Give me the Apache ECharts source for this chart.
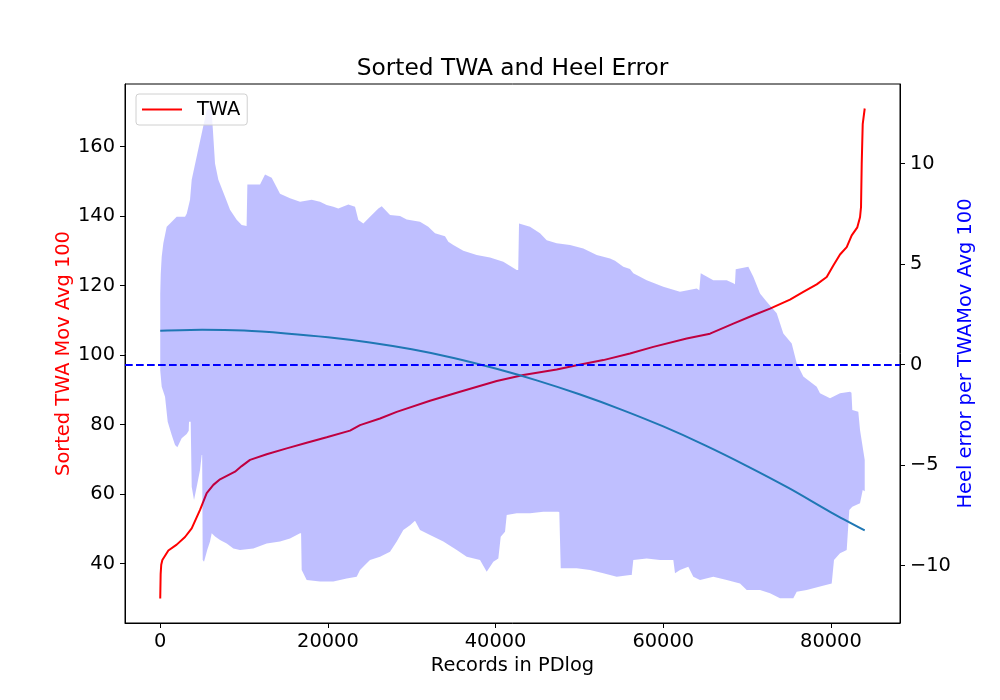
<!DOCTYPE html>
<html><head><meta charset="utf-8">
<script src="https://cdn.jsdelivr.net/npm/echarts@6/dist/echarts.min.js"></script>
<style>html,body{margin:0;padding:0;background:#fff}#c{width:1000px;height:700px}</style>
</head><body><div id="c"></div>
<script>
// ---------- data ----------
const titleText = 'Sorted TWA and Heel Error';
const xAxisName = 'Records in PDlog';
const leftAxisName = 'Sorted TWA Mov Avg 100';
const rightAxisName = 'Heel error per TWAMov Avg 100';
const legendName = 'TWA';

const xTicks = [0, 20000, 40000, 60000, 80000];
const leftTicks = [40, 60, 80, 100, 120, 140, 160];
const rightTicks = [-10, -5, 0, 5, 10];

// Sorted TWA (left axis)
const twaX = [0, 50, 120, 254, 970, 1964, 2958, 3754, 4747, 5543, 6337, 7133, 8922, 9717, 10711, 12699, 15085, 17470, 19855, 22638, 23831, 26217, 28209, 32180, 35758, 40136, 43308, 47292, 49678, 52850, 56035, 58814, 62798, 65577, 68357, 70744, 72734, 75119, 76706, 78304, 79497, 80284, 81083, 81882, 82478, 83147, 83469, 83588, 83671, 83791, 84030];
const twaY = [30.0, 37.0, 39.7, 41.1, 43.8, 45.5, 47.7, 50.2, 55.5, 60.3, 62.7, 64.3, 66.5, 68.1, 69.9, 71.5, 73.2, 74.8, 76.4, 78.3, 79.9, 81.8, 83.7, 86.9, 89.5, 92.6, 94.3, 95.9, 97.1, 98.6, 100.5, 102.4, 104.8, 106.2, 109.1, 111.5, 113.4, 116.0, 118.2, 120.4, 122.5, 125.8, 129.0, 131.1, 134.5, 136.8, 139.7, 142.6, 155.0, 166.5, 171.0];

// Heel error band (right axis): upper envelope
const upperX = [0, 60, 175, 370, 772, 1169, 1964, 2958, 3157, 3554, 3754, 4429, 4946, 5543, 5860, 6139, 6536, 6934, 7729, 8325, 9120, 9717, 10300, 10393, 11904, 12500, 13296, 14289, 15482, 16675, 18067, 19060, 19855, 20650, 21246, 22439, 23234, 23632, 24229, 25024, 26018, 26420, 27410, 28603, 29402, 30983, 31973, 32777, 33969, 34363, 34959, 36152, 37750, 39337, 40923, 42522, 42700, 42796, 44108, 45300, 46100, 47292, 48879, 50465, 52063, 53650, 54246, 55236, 56035, 56428, 58026, 60007, 61994, 63991, 64300, 64468, 65970, 67569, 68357, 68550, 68643, 70147, 70744, 71543, 72342, 73535, 74323, 75322, 75919, 76706, 78304, 78697, 79890, 81083, 82276, 82450, 82550, 83266, 83469, 84030];
const upperY = [3.5, 4.5, 5.36, 6.04, 6.86, 7.02, 7.35, 7.35, 7.5, 8.2, 9.2, 10.5, 11.5, 12.66, 12.75, 12.6, 10.0, 9.2, 8.35, 7.7, 7.2, 6.95, 6.9, 8.96, 8.96, 9.46, 9.3, 8.5, 8.27, 8.1, 8.2, 8.1, 7.94, 7.85, 7.77, 7.97, 7.85, 7.19, 7.02, 7.35, 7.77, 7.88, 7.44, 7.39, 7.22, 7.1, 6.86, 6.53, 6.39, 6.11, 5.95, 5.66, 5.45, 5.33, 5.12, 4.7, 4.7, 7.02, 6.86, 6.53, 6.19, 6.03, 5.95, 5.78, 5.45, 5.28, 5.16, 4.87, 4.75, 4.54, 4.2, 3.87, 3.62, 3.79, 3.7, 4.54, 4.2, 4.2, 4.04, 4.0, 4.74, 4.87, 4.37, 3.54, 3.12, 2.55, 1.55, 1.05, 0.06, -0.6, -1.1, -1.43, -1.68, -1.43, -1.35, -1.4, -2.26, -2.35, -3.26, -4.75];

// Heel error band (right axis): lower envelope
const lowerX = [0, 175, 573, 891, 1368, 1765, 2043, 2560, 3157, 3400, 3435, 3634, 3754, 4031, 4429, 4747, 4946, 5000, 5065, 5224, 5622, 5940, 6139, 6536, 7133, 7928, 8723, 9518, 11108, 12699, 14289, 15482, 16675, 16800, 16874, 17470, 19060, 20650, 22240, 23433, 23831, 24627, 25024, 26217, 27410, 28209, 28996, 29795, 30391, 30988, 32180, 33767, 35365, 36557, 38144, 38943, 39730, 40327, 40613, 41126, 41329, 42522, 44108, 45694, 47483, 47600, 47770, 49678, 51264, 52850, 54449, 56035, 56238, 56428, 58026, 59613, 61199, 61403, 61999, 62989, 63585, 64385, 65970, 67569, 69155, 69954, 71541, 72734, 73926, 75513, 75918, 77111, 78697, 80093, 80367, 81083, 81882, 82192, 82550, 83469, 83791, 84030];
const lowerY = [-0.3, -1.1, -1.6, -2.85, -3.5, -4.0, -4.12, -3.67, -3.46, -3.3, -2.85, -2.85, -6.08, -6.74, -5.92, -5.25, -4.5, -4.5, -9.73, -9.81, -9.2, -8.81, -8.4, -8.55, -8.73, -8.9, -9.15, -9.23, -9.15, -8.9, -8.8, -8.65, -8.4, -8.4, -10.22, -10.72, -10.8, -10.8, -10.64, -10.56, -10.22, -9.89, -9.73, -9.56, -9.31, -8.81, -8.23, -7.99, -7.77, -8.23, -8.48, -8.81, -9.23, -9.56, -9.73, -10.31, -9.81, -9.65, -8.57, -8.32, -7.49, -7.4, -7.4, -7.32, -7.32, -7.35, -10.14, -10.14, -10.22, -10.39, -10.56, -10.47, -10.47, -9.73, -9.65, -9.73, -9.73, -10.39, -10.22, -10.06, -10.56, -10.72, -10.56, -10.72, -10.89, -11.22, -11.22, -11.38, -11.63, -11.63, -11.3, -11.22, -11.05, -10.89, -9.73, -9.39, -9.23, -7.24, -7.07, -6.9, -6.24, -6.3];

// Fitted heel-error trend (right axis)
const fitX = [0, 5000, 10000, 15000, 20000, 25000, 30000, 35000, 40000, 45000, 50000, 55000, 60000, 65000, 70000, 75000, 80000, 84030];
const fitY = [1.68, 1.73, 1.69, 1.55, 1.36, 1.10, 0.76, 0.33, -0.20, -0.80, -1.48, -2.24, -3.08, -4.02, -5.05, -6.15, -7.35, -8.25];

const zeroLevel = 0;

// ---------- chart ----------
const FONT = 'DejaVu Sans';
const FS = 19.4;
const minus = v => String(v).replace('-', '\u2212');
const zip = (xs, ys) => xs.map((x, i) => [x, ys[i]]);

const chart = echarts.init(document.getElementById('c'), null, {renderer: 'canvas'});
chart.setOption({
  animation: false,
  backgroundColor: '#ffffff',
  textStyle: {fontFamily: FONT},
  graphic: [{
    type: 'text', x: 512.5, y: 69, z: 10,
    style: {text: titleText, fontFamily: FONT, fontSize: 23.3, fill: '#000',
            textAlign: 'center', textVerticalAlign: 'middle'}
  }],
  grid: {left: 125, right: 100, top: 84, bottom: 77, show: true,
         borderColor: '#000', borderWidth: 1, backgroundColor: 'transparent'},
  legend: {
    left: 136, top: 94, orient: 'vertical',
    data: [{name: legendName, icon: 'rect'}],
    itemWidth: 40, itemHeight: 2,
    padding: [6, 7, 6, 6],
    backgroundColor: 'rgba(255,255,255,0.8)',
    borderColor: '#d0d0d0', borderWidth: 1, borderRadius: 3,
    textStyle: {fontFamily: FONT, fontSize: FS, color: '#000', padding: [0, 0, 0, 10]}
  },
  xAxis: {
    type: 'value', min: -4202, max: 88238,
    name: xAxisName, nameLocation: 'middle', nameGap: 33, nameMoveOverlap: false,
    nameTextStyle: {fontFamily: FONT, fontSize: FS, color: '#000'},
    axisLine: {show: true, onZero: false, lineStyle: {color: '#000', width: 1}},
    axisTick: {show: true, inside: false, length: 5, customValues: xTicks, lineStyle: {color: '#000'}},
    axisLabel: {show: true, customValues: xTicks, margin: 9, fontFamily: FONT, fontSize: FS, color: '#000', formatter: minus},
    splitLine: {show: false}
  },
  yAxis: [{
    type: 'value', min: 22.95, max: 178.05, position: 'left',
    name: leftAxisName, nameLocation: 'middle', nameGap: 52, nameMoveOverlap: false,
    nameTextStyle: {fontFamily: FONT, fontSize: FS, color: '#ff0000'},
    axisLine: {show: true, onZero: false, lineStyle: {color: '#000', width: 1}},
    axisTick: {show: true, length: 5, customValues: leftTicks, lineStyle: {color: '#000'}},
    axisLabel: {show: true, customValues: leftTicks, margin: 10, fontFamily: FONT, fontSize: FS, color: '#000', formatter: minus},
    splitLine: {show: false}
  }, {
    type: 'value', min: -12.86, max: 13.96, position: 'right',
    name: rightAxisName, nameLocation: 'middle', nameGap: 56, nameMoveOverlap: false,
    nameTextStyle: {fontFamily: FONT, fontSize: FS, color: '#0000ff'},
    axisLine: {show: true, onZero: false, lineStyle: {color: '#000', width: 1}},
    axisTick: {show: true, length: 5, customValues: rightTicks, lineStyle: {color: '#000'}},
    axisLabel: {show: true, customValues: rightTicks, margin: 10, fontFamily: FONT, fontSize: FS, color: '#000', formatter: minus},
    splitLine: {show: false}
  }],
  series: [{
    name: legendName, type: 'line', xAxisIndex: 0, yAxisIndex: 0, z: 2,
    data: zip(twaX, twaY), showSymbol: false, symbol: 'none',
    lineStyle: {color: '#ff0000', width: 2}, itemStyle: {color: '#ff0000'}
  }, {
    name: 'band', type: 'custom', xAxisIndex: 0, yAxisIndex: 1, z: 3, silent: true,
    data: [[upperX[0], upperY[0]]], encode: {x: 0, y: 1},
    renderItem: function (params, api) {
      const pts = [];
      for (let i = 0; i < upperX.length; i++) pts.push(api.coord([upperX[i], upperY[i]]));
      for (let i = lowerX.length - 1; i >= 0; i--) pts.push(api.coord([lowerX[i], lowerY[i]]));
      return {type: 'polygon', shape: {points: pts}, style: {fill: 'rgba(0,0,255,0.25)', stroke: null}};
    }
  }, {
    name: 'fit', type: 'line', xAxisIndex: 0, yAxisIndex: 1, z: 4,
    data: zip(fitX, fitY), showSymbol: false, symbol: 'none', smooth: 0.3,
    lineStyle: {color: '#1f77b4', width: 2},
    markLine: {
      silent: true, symbol: ['none', 'none'], label: {show: false},
      lineStyle: {color: '#0000ff', type: [7.7, 3.3], width: 2},
      data: [{yAxis: zeroLevel}]
    }
  }]
});
</script></body></html>
